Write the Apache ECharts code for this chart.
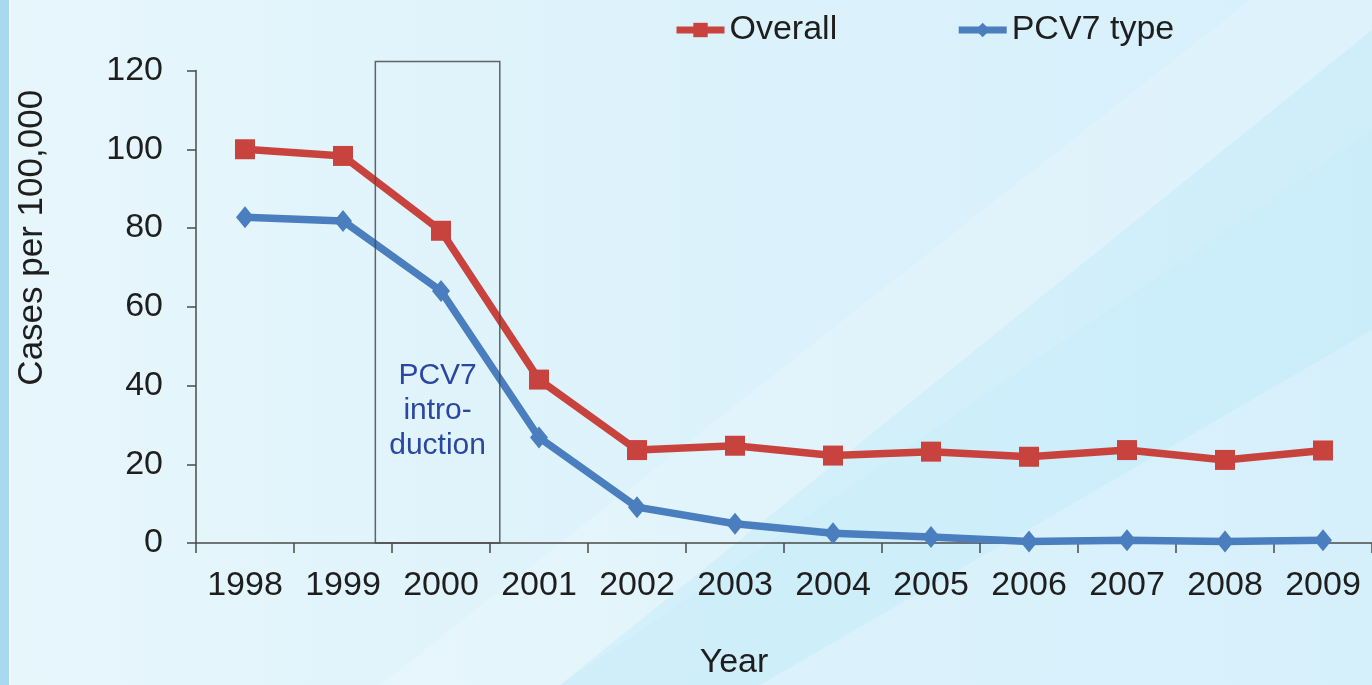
<!DOCTYPE html>
<html>
<head>
<meta charset="utf-8">
<script src="https://cdn.jsdelivr.net/npm/echarts@6/dist/echarts.min.js"></script>
<style>
html,body{margin:0;padding:0;background:#e2f4fb;}
#chart{width:1372px;height:685px;}
</style>
</head>
<body>
<div id="chart"></div>
<script>
var years = ['1998','1999','2000','2001','2002','2003','2004','2005','2006','2007','2008','2009'];
var overall = [100, 98.3, 79.3, 41.5, 23.6, 24.7, 22.2, 23.2, 21.9, 23.6, 21.1, 23.5];
var pcv7Type = [82.7, 81.8, 64.0, 26.8, 9.1, 4.9, 2.5, 1.5, 0.4, 0.7, 0.4, 0.7];
var yTicks = [0, 20, 40, 60, 80, 100, 120];
// introduction box, in category-index units and value units
var boxX = [1.33, 2.6];
var boxTop = 122.3;
var boxText = ['PCV7', 'intro-', 'duction'];
var boxTextPos = [1.965, 33.7];

var chart = echarts.init(document.getElementById('chart'));
var font = 'Liberation Sans, Arial, sans-serif';

var option = {
  backgroundColor: {
    type: 'linear', x: 0, y: 0, x2: 1, y2: 0,
    colorStops: [{offset: 0, color: '#e8f6fc'}, {offset: 0.5, color: '#dcf2fb'}, {offset: 1, color: '#d6f0fb'}]
  },
  textStyle: {fontFamily: font},
  graphic: [
    {type: 'rect', left: 0, top: 0, shape: {width: 9, height: 685}, style: {fill: '#a9d9f1'}, z: -1},
    {type: 'rect', left: 9, top: 0, shape: {width: 2, height: 685}, style: {fill: '#f2fbff'}, z: -1},
    {type: 'polygon', shape: {points: [[380, 685], [560, 685], [1372, 130], [1372, 0], [1250, 0]]}, style: {fill: '#ffffff', opacity: 0.18}, z: -1},
    {type: 'polygon', shape: {points: [[560, 685], [760, 685], [1372, 330], [1372, 30]]}, style: {fill: '#b8e8fa', opacity: 0.35}, z: -1}
  ],
  legend: {
    data: ['Overall', 'PCV7 type'],
    left: 668, top: 8,
    itemWidth: 48, itemHeight: 18, itemGap: 118,
    lineStyle: {width: 7},
    textStyle: {fontSize: 34, color: '#1e1e1e', fontFamily: font}
  },
  grid: {left: 196, top: 70.5, width: 1178, bottom: 140},
  xAxis: [{
    type: 'category',
    data: years,
    name: 'Year',
    nameLocation: 'middle',
    nameGap: 103,
    nameTextStyle: {fontSize: 34, color: '#1e1e1e', padding: [0, 100, 0, 0]},
    axisLine: {show: true, lineStyle: {color: '#4a4a4a', width: 1.5}},
    axisTick: {show: true, alignWithLabel: false, interval: 0, length: 10, lineStyle: {color: '#4a4a4a', width: 1.5}},
    axisLabel: {fontSize: 34, color: '#1e1e1e', margin: 26, interval: 0}
  }, {
    type: 'value', min: -0.5, max: 11.5, show: false
  }],
  yAxis: {
    type: 'value',
    min: 0, max: 120, interval: 20,
    name: 'Cases per 100,000',
    nameLocation: 'middle',
    nameRotate: 90,
    nameGap: 146,
    nameTextStyle: {fontSize: 35, color: '#1e1e1e', padding: [0, 0, 0, 138]},
    axisLine: {show: true, onZero: false, lineStyle: {color: '#4a4a4a', width: 1.5}},
    axisTick: {show: true, length: 9, lineStyle: {color: '#4a4a4a', width: 1.5}},
    axisLabel: {fontSize: 34, color: '#1e1e1e', margin: 33,
      formatter: function (v) { return yTicks.indexOf(v) >= 0 ? String(v) : ''; }},
    splitLine: {show: false}
  },
  series: [{
    name: 'Overall',
    type: 'line',
    data: overall,
    symbol: 'rect', symbolSize: 20,
    lineStyle: {color: '#c9433e', width: 7.5},
    itemStyle: {color: '#c9433e'},
    z: 3
  }, {
    name: 'PCV7 type',
    type: 'line',
    data: pcv7Type,
    symbol: 'diamond', symbolSize: [18, 22],
    lineStyle: {color: '#4a7ebf', width: 7.5},
    itemStyle: {color: '#4a7ebf'},
    z: 2
  }, {
    name: 'box',
    type: 'custom',
    xAxisIndex: 1,
    data: [[boxX[0], boxX[1], boxTop]],
    silent: true,
    z: 4,
    renderItem: function (params, api) {
      var p0 = api.coord([api.value(0), 0]);
      var p1 = api.coord([api.value(1), api.value(2)]);
      return {
        type: 'rect',
        shape: {x: p0[0], y: p1[1], width: p1[0] - p0[0], height: p0[1] - p1[1]},
        style: {fill: 'none', stroke: '#4a4a4a', lineWidth: 1.5, opacity: 0.85}
      };
    }
  }, {
    name: 'boxText',
    type: 'scatter',
    xAxisIndex: 1,
    data: [boxTextPos],
    symbolSize: 1,
    itemStyle: {color: 'rgba(0,0,0,0)', opacity: 1},
    silent: true,
    label: {
      show: true, position: 'inside',
      formatter: boxText.join('\n'),
      fontSize: 30, lineHeight: 35, color: '#2a48a0', opacity: 1, fontFamily: font
    }
  }]
};
chart.setOption(option);
</script>
</body>
</html>
